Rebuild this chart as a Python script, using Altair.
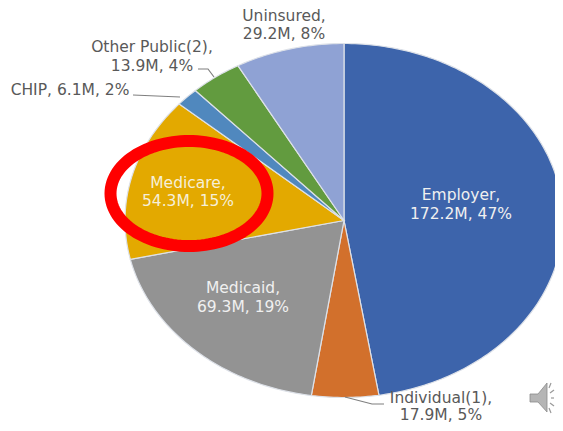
import math
import altair as alt
import pandas as pd

categories = ["Employer", "Individual(1)", "Medicaid", "Medicare", "CHIP", "Other Public(2)", "Uninsured"]
values = [172.2, 17.9, 69.3, 54.3, 6.1, 13.9, 29.2]
colors = ["#3D64AB", "#D2702C", "#939393", "#E3A900", "#5088BE", "#629B3F", "#8FA2D4"]

CX, CY, RX, RY = 344, 220.5, 219, 177

label_lines = ["Uninsured,", "29.2M, 8%", "Other Public(2),", "13.9M, 4%", "CHIP, 6.1M, 2%",
               "Medicare,", "54.3M, 15%", "Medicaid,", "69.3M, 19%", "Employer,", "172.2M, 47%",
               "Individual(1),", "17.9M, 5%"]
label_x = [284, 284, 152, 152, 70, 188, 188, 243, 243, 461, 461, 441, 441]
label_y = [16, 34, 47, 66, 90, 183, 201, 288, 307, 195, 214, 398, 415]
label_color = ["#595959"] * 5 + ["#F6EFD8"] * 2 + ["#F0F0F0"] * 4 + ["#595959"] * 2

leaders = {
    "chip": [(133, 95), (180, 97)],
    "other": [(198, 69), (208, 69), (214, 77)],
    "individual": [(345, 397), (372, 404), (384, 404)],
}

speaker_x = [530, 538, 547, 547, 538, 530]
speaker_y = [394, 394, 383, 412, 402, 402]
speaker_ticks = [((549, 388), (551, 383)), ((550, 393), (554, 390)), ((551, 398), (554, 398)),
                 ((550, 403), (554, 406)), ((549, 408), (551, 413))]

ring_cx, ring_cy, ring_rx, ring_ry = 189, 193.5, 78.5, 52.5

PLOT_W, PLOT_H = 547, 415
x_scale = alt.Scale(domain=[8, 8 + PLOT_W], nice=False, zero=False)
y_scale = alt.Scale(domain=[8 + PLOT_H, 8], nice=False, zero=False)
X = alt.X("x:Q", scale=x_scale, axis=None)
Y = alt.Y("y:Q", scale=y_scale, axis=None)

total = sum(values)
layers = []
start = 0.0
for cat, val, col in zip(categories, values, colors):
    end = start + val / total * 2 * math.pi
    n = max(4, int((end - start) * 60))
    pts = [(CX, CY)]
    for i in range(n + 1):
        a = start + (end - start) * i / n
        pts.append((CX + RX * math.sin(a), CY - RY * math.cos(a)))
    df = pd.DataFrame({"x": [p[0] for p in pts], "y": [p[1] for p in pts], "o": range(len(pts))})
    layers.append(
        alt.Chart(df).mark_line(interpolate="linear-closed", fill=col, stroke="#DDE1E8", strokeWidth=1.2)
        .encode(x=X, y=Y, order="o:Q")
    )
    start = end

rows = []
for name, pts in leaders.items():
    for i, (px, py) in enumerate(pts):
        rows.append({"x": px, "y": py, "o": i, "k": name})
layers.append(
    alt.Chart(pd.DataFrame(rows)).mark_line(color="#7F7F7F", strokeWidth=1.2)
    .encode(x=X, y=Y, order="o:Q", detail="k:N")
)

ring_pts = [(ring_cx + ring_rx * math.cos(i / 120 * 2 * math.pi), ring_cy + ring_ry * math.sin(i / 120 * 2 * math.pi)) for i in range(120)]
layers.append(
    alt.Chart(pd.DataFrame({"x": [p[0] for p in ring_pts], "y": [p[1] for p in ring_pts], "o": range(120)}))
    .mark_line(interpolate="linear-closed", color="#FF0000", strokeWidth=12)
    .encode(x=X, y=Y, order="o:Q")
)

layers.append(
    alt.Chart(pd.DataFrame({"x": label_x, "y": label_y, "t": label_lines, "c": label_color}))
    .mark_text(font="DejaVu Sans", fontSize=15.5, align="center", baseline="middle")
    .encode(x=X, y=Y, text="t:N", color=alt.Color("c:N", scale=None))
)

layers.append(
    alt.Chart(pd.DataFrame({"x": speaker_x, "y": speaker_y, "o": range(6)}))
    .mark_line(interpolate="linear-closed", fill="#B5B5B5", stroke="#8C8C8C", strokeWidth=0.8)
    .encode(x=X, y=Y, order="o:Q")
)
rows = []
for i, (a, b) in enumerate(speaker_ticks):
    rows += [{"x": a[0], "y": a[1], "o": 0, "k": i}, {"x": b[0], "y": b[1], "o": 1, "k": i}]
layers.append(
    alt.Chart(pd.DataFrame(rows)).mark_line(color="#9A9A9A", strokeWidth=1.2)
    .encode(x=X, y=Y, order="o:Q", detail="k:N")
)

chart = (
    alt.layer(*layers)
    .properties(width=PLOT_W, height=PLOT_H, padding=0, background="white", autosize=alt.AutoSizeParams(type="none"))
    .configure_view(stroke=None)
)
chart.save("out.html", embed_options={"renderer": "svg", "actions": False})
